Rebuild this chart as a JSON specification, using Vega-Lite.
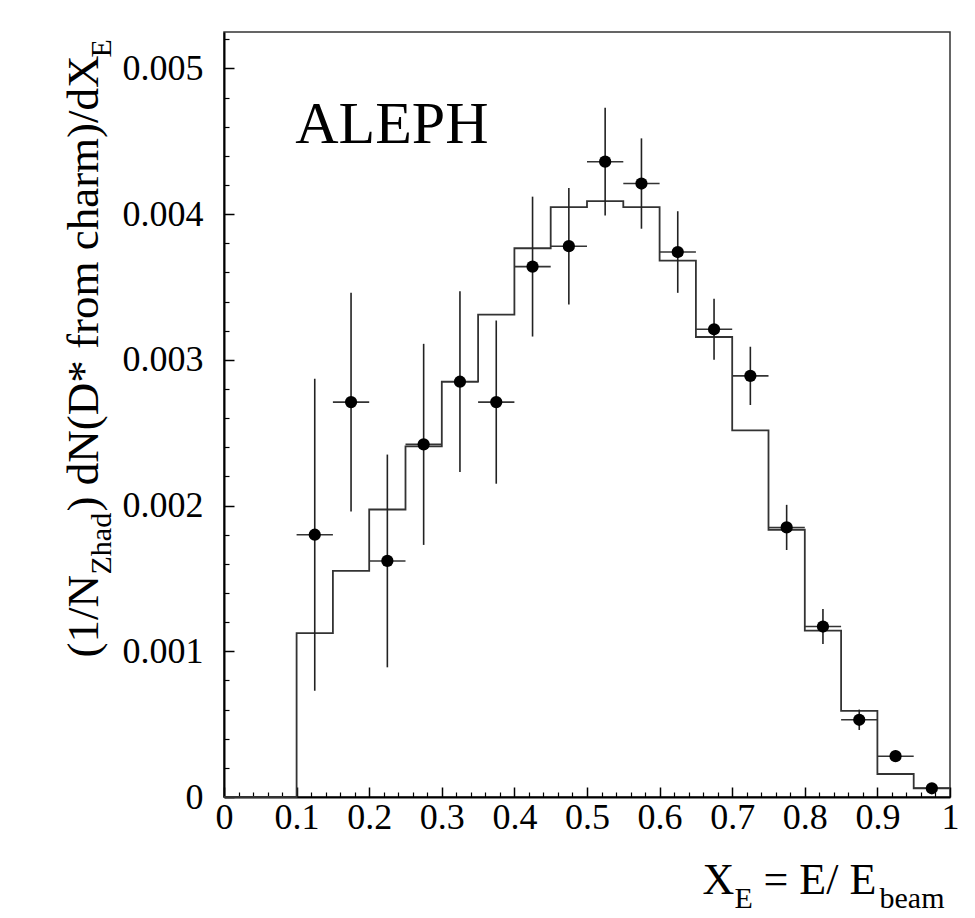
{
  "$schema": "https://vega.github.io/schema/vega-lite/v6.json",
  "width": 726,
  "height": 765,
  "autosize": {"type": "none"},
  "padding": {"left": 224, "top": 32, "right": 25, "bottom": 121},
  "background": "white",
  "config": {
    "font": "'Liberation Serif', 'Times New Roman', serif",
    "view": {"stroke": "#333333", "strokeWidth": 1.5, "fill": "white"},
    "axis": {
      "labelFont": "'Liberation Serif', 'Times New Roman', serif",
      "titleFont": "'Liberation Serif', 'Times New Roman', serif",
      "labelColor": "black",
      "titleColor": "black",
      "titleFontWeight": "normal",
      "grid": false,
      "labelFlush": false,
      "labelOverlap": false
    }
  },
  "datasets": {
    "data": [
      {"x": 0.125, "lo": 0.10, "hi": 0.15, "y": 0.00180, "ylo": 0.00073, "yhi": 0.00287},
      {"x": 0.175, "lo": 0.15, "hi": 0.20, "y": 0.00271, "ylo": 0.00196, "yhi": 0.00346},
      {"x": 0.225, "lo": 0.20, "hi": 0.25, "y": 0.00162, "ylo": 0.00089, "yhi": 0.00235},
      {"x": 0.275, "lo": 0.25, "hi": 0.30, "y": 0.00242, "ylo": 0.00173, "yhi": 0.00311},
      {"x": 0.325, "lo": 0.30, "hi": 0.35, "y": 0.00285, "ylo": 0.00223, "yhi": 0.00347},
      {"x": 0.375, "lo": 0.35, "hi": 0.40, "y": 0.00271, "ylo": 0.00215, "yhi": 0.00327},
      {"x": 0.425, "lo": 0.40, "hi": 0.45, "y": 0.00364, "ylo": 0.00316, "yhi": 0.00412},
      {"x": 0.475, "lo": 0.45, "hi": 0.50, "y": 0.00378, "ylo": 0.00338, "yhi": 0.00418},
      {"x": 0.525, "lo": 0.50, "hi": 0.55, "y": 0.00436, "ylo": 0.00399, "yhi": 0.00473},
      {"x": 0.575, "lo": 0.55, "hi": 0.60, "y": 0.00421, "ylo": 0.00390, "yhi": 0.00452},
      {"x": 0.625, "lo": 0.60, "hi": 0.65, "y": 0.00374, "ylo": 0.00346, "yhi": 0.00402},
      {"x": 0.675, "lo": 0.65, "hi": 0.70, "y": 0.00321, "ylo": 0.00300, "yhi": 0.00342},
      {"x": 0.725, "lo": 0.70, "hi": 0.75, "y": 0.00289, "ylo": 0.00269, "yhi": 0.00309},
      {"x": 0.775, "lo": 0.75, "hi": 0.80, "y": 0.00185, "ylo": 0.001695, "yhi": 0.002005},
      {"x": 0.825, "lo": 0.80, "hi": 0.85, "y": 0.00117, "ylo": 0.00105, "yhi": 0.00129},
      {"x": 0.875, "lo": 0.85, "hi": 0.90, "y": 0.00053, "ylo": 0.00046, "yhi": 0.00060},
      {"x": 0.925, "lo": 0.90, "hi": 0.95, "y": 0.00028, "ylo": 0.00024, "yhi": 0.00032},
      {"x": 0.975, "lo": 0.95, "hi": 1.00, "y": 0.00006, "ylo": 0.00003, "yhi": 0.00009}
    ],
    "mc": [
      {"bin": 1, "lo": 0.00, "hi": 0.05, "mc": 0},
      {"bin": 2, "lo": 0.05, "hi": 0.10, "mc": 0},
      {"bin": 3, "lo": 0.10, "hi": 0.15, "mc": 0.001124},
      {"bin": 4, "lo": 0.15, "hi": 0.20, "mc": 0.001552},
      {"bin": 5, "lo": 0.20, "hi": 0.25, "mc": 0.001973},
      {"bin": 6, "lo": 0.25, "hi": 0.30, "mc": 0.002406},
      {"bin": 7, "lo": 0.30, "hi": 0.35, "mc": 0.002850},
      {"bin": 8, "lo": 0.35, "hi": 0.40, "mc": 0.003310},
      {"bin": 9, "lo": 0.40, "hi": 0.45, "mc": 0.003766},
      {"bin": 10, "lo": 0.45, "hi": 0.50, "mc": 0.004048},
      {"bin": 11, "lo": 0.50, "hi": 0.55, "mc": 0.004089},
      {"bin": 12, "lo": 0.55, "hi": 0.60, "mc": 0.004048},
      {"bin": 13, "lo": 0.60, "hi": 0.65, "mc": 0.003681},
      {"bin": 14, "lo": 0.65, "hi": 0.70, "mc": 0.003157},
      {"bin": 15, "lo": 0.70, "hi": 0.75, "mc": 0.002516},
      {"bin": 16, "lo": 0.75, "hi": 0.80, "mc": 0.001834},
      {"bin": 17, "lo": 0.80, "hi": 0.85, "mc": 0.001142},
      {"bin": 18, "lo": 0.85, "hi": 0.90, "mc": 0.000591},
      {"bin": 19, "lo": 0.90, "hi": 0.95, "mc": 0.000158},
      {"bin": 20, "lo": 0.95, "hi": 1.00, "mc": 0.000060}
    ],
    "labels": [
      {"label": "ALEPH", "x": 0.098, "y": 0.00449}
    ]
  },
  "resolve": {"axis": {"x": "independent", "y": "independent"}},
  "layer": [
    {
      "data": {"name": "mc"},
      "transform": [{"fold": ["lo", "hi"], "as": ["side", "edge"]}],
      "mark": {"type": "line", "color": "#333333", "strokeWidth": 1.8},
      "encoding": {
        "x": {
          "field": "edge", "type": "quantitative",
          "scale": {"domain": [0, 1], "nice": false, "zero": false},
          "axis": {
            "orient": "bottom",
            "values": [0, 0.1, 0.2, 0.3, 0.4, 0.5, 0.6, 0.7, 0.8, 0.9, 1],
            "format": "~g",
            "tickSize": -10, "tickColor": "black", "tickWidth": 1.5,
            "domainColor": "black", "domainWidth": 2,
            "labelFont": "'Liberation Serif', 'Times New Roman', serif",
            "labelFontSize": 36, "labelPadding": 13,
            "title": "X", "titleFontSize": 44,
            "titleFont": "'Liberation Serif', 'Times New Roman', serif", "titleFontWeight": "normal",
            "titleX": 478, "titleY": 96, "titleAlign": "left", "titleBaseline": "alphabetic", "titleAngle": 0
          }
        },
        "y": {
          "field": "mc", "type": "quantitative",
          "scale": {"domain": [0, 0.00525], "nice": false, "zero": false},
          "axis": {
            "orient": "left",
            "values": [0, 0.001, 0.002, 0.003, 0.004, 0.005],
            "format": ".3~f",
            "tickSize": -10, "tickColor": "black", "tickWidth": 1.5,
            "domainColor": "black", "domainWidth": 2,
            "labelFont": "'Liberation Serif', 'Times New Roman', serif",
            "labelFontSize": 36, "labelPadding": 31,
            "title": "(1/N", "titleFontSize": 45,
            "titleFont": "'Liberation Serif', 'Times New Roman', serif", "titleFontWeight": "normal",
            "titleX": -127, "titleY": 625, "titleAlign": "left", "titleBaseline": "alphabetic", "titleAngle": -90
          }
        },
        "order": [
          {"field": "edge", "type": "quantitative"},
          {"field": "bin", "type": "quantitative"}
        ]
      }
    },
    {
      "data": {"name": "data"},
      "mark": {"type": "rule", "color": "#222222", "strokeWidth": 1.6},
      "encoding": {
        "x": {
          "field": "x", "type": "quantitative",
          "scale": {"domain": [0, 1], "nice": false, "zero": false},
          "axis": {
            "orient": "bottom",
            "values": [0.02, 0.04, 0.06, 0.08, 0.12, 0.14, 0.16, 0.18, 0.22, 0.24, 0.26, 0.28, 0.32, 0.34, 0.36, 0.38, 0.42, 0.44, 0.46, 0.48, 0.52, 0.54, 0.56, 0.58, 0.62, 0.64, 0.66, 0.68, 0.72, 0.74, 0.76, 0.78, 0.82, 0.84, 0.86, 0.88, 0.92, 0.94, 0.96, 0.98],
            "labels": false, "domain": false,
            "tickSize": -5, "tickColor": "black", "tickWidth": 1.2,
            "title": "E", "titleFontSize": 30,
            "titleFont": "'Liberation Serif', 'Times New Roman', serif", "titleFontWeight": "normal",
            "titleX": 510, "titleY": 110, "titleAlign": "left", "titleBaseline": "alphabetic", "titleAngle": 0
          }
        },
        "y": {
          "field": "ylo", "type": "quantitative",
          "scale": {"domain": [0, 0.00525], "nice": false, "zero": false},
          "axis": {
            "orient": "left",
            "values": [0.0002, 0.0004, 0.0006, 0.0008, 0.0012, 0.0014, 0.0016, 0.0018, 0.0022, 0.0024, 0.0026, 0.0028, 0.0032, 0.0034, 0.0036, 0.0038, 0.0042, 0.0044, 0.0046, 0.0048, 0.0052],
            "labels": false, "domain": false,
            "tickSize": -5, "tickColor": "black", "tickWidth": 1.2,
            "title": "Zhad", "titleFontSize": 30,
            "titleFont": "'Liberation Serif', 'Times New Roman', serif", "titleFontWeight": "normal",
            "titleX": -114, "titleY": 542, "titleAlign": "left", "titleBaseline": "alphabetic", "titleAngle": -90
          }
        },
        "y2": {"field": "yhi"}
      }
    },
    {
      "data": {"name": "data"},
      "mark": {"type": "rule", "color": "#333333", "strokeWidth": 1.6},
      "encoding": {
        "x": {
          "field": "lo", "type": "quantitative",
          "scale": {"domain": [0, 1], "nice": false, "zero": false},
          "axis": {
            "orient": "bottom", "labels": false, "ticks": false, "domain": false,
            "title": "= E/ E", "titleFontSize": 44,
            "titleFont": "'Liberation Serif', 'Times New Roman', serif", "titleFontWeight": "normal",
            "titleX": 539, "titleY": 96, "titleAlign": "left", "titleBaseline": "alphabetic", "titleAngle": 0
          }
        },
        "x2": {"field": "hi"},
        "y": {
          "field": "y", "type": "quantitative",
          "scale": {"domain": [0, 0.00525], "nice": false, "zero": false},
          "axis": {
            "orient": "left", "labels": false, "ticks": false, "domain": false,
            "title": ") dN(D* from charm)/dX", "titleFontSize": 45,
            "titleFont": "'Liberation Serif', 'Times New Roman', serif", "titleFontWeight": "normal",
            "titleX": -127, "titleY": 479, "titleAlign": "left", "titleBaseline": "alphabetic", "titleAngle": -90
          }
        }
      }
    },
    {
      "data": {"name": "data"},
      "mark": {"type": "point", "shape": "circle", "filled": true, "color": "black", "size": 150, "opacity": 1},
      "encoding": {
        "x": {
          "field": "x", "type": "quantitative",
          "scale": {"domain": [0, 1], "nice": false, "zero": false},
          "axis": {
            "orient": "bottom", "labels": false, "ticks": false, "domain": false,
            "title": "beam", "titleFontSize": 30,
            "titleFont": "'Liberation Serif', 'Times New Roman', serif", "titleFontWeight": "normal",
            "titleX": 655, "titleY": 110, "titleAlign": "left", "titleBaseline": "alphabetic", "titleAngle": 0
          }
        },
        "y": {
          "field": "y", "type": "quantitative",
          "scale": {"domain": [0, 0.00525], "nice": false, "zero": false},
          "axis": {
            "orient": "left", "labels": false, "ticks": false, "domain": false,
            "title": "E", "titleFontSize": 30,
            "titleFont": "'Liberation Serif', 'Times New Roman', serif", "titleFontWeight": "normal",
            "titleX": -114, "titleY": 25, "titleAlign": "left", "titleBaseline": "alphabetic", "titleAngle": -90
          }
        }
      }
    },
    {
      "data": {"name": "labels"},
      "mark": {"type": "text", "font": "'Liberation Serif', 'Times New Roman', serif", "fontSize": 60, "align": "left", "baseline": "alphabetic", "color": "black"},
      "encoding": {
        "text": {"field": "label"},
        "x": {"field": "x", "type": "quantitative", "scale": {"domain": [0, 1], "nice": false, "zero": false}, "axis": null},
        "y": {"field": "y", "type": "quantitative", "scale": {"domain": [0, 0.00525], "nice": false, "zero": false}, "axis": null}
      }
    }
  ]
}
